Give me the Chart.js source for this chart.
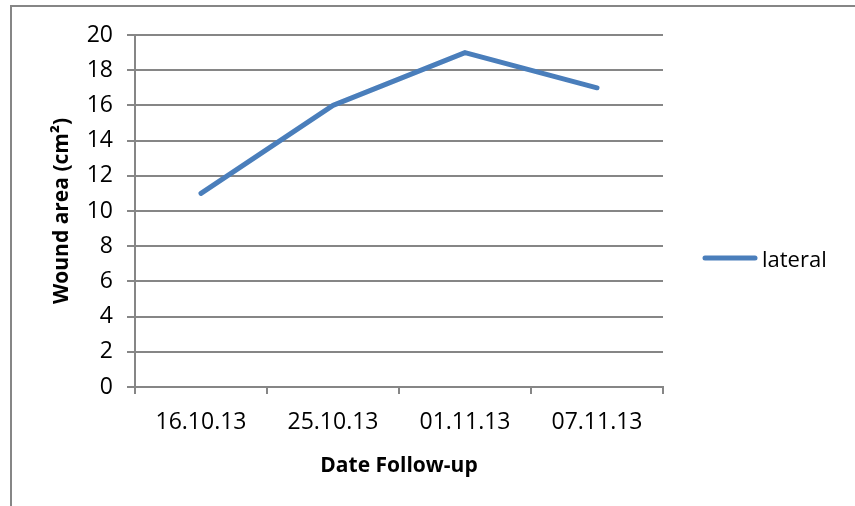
<!DOCTYPE html>
<html lang="en">

<head>
  <meta charset="UTF-8">
  <title>Wound area</title>
  <style>
    html, body {
      margin: 0;
      padding: 0;
      background: #fff;
      overflow: hidden;
    }

    #chart-container {
      width: 855px;
      height: 506px;
      position: relative;
    }
  </style>
</head>

<body>
  <div id="chart-container">
    <canvas id="woundChart"></canvas>
  </div>

  <script src="https://cdn.jsdelivr.net/npm/chart.js@4.4.0/dist/chart.umd.min.js"></script>
  <script>
    const dates = ['16.10.13', '25.10.13', '01.11.13', '07.11.13'];
    const lateral = [11, 16, 19, 17];
    const yTicks = [0, 2, 4, 6, 8, 10, 12, 14, 16, 18, 20];

    const gridColor = '#868686';
    const lineColor = '#4a7ebb';
    const fontFamily = '"Open Sans", "Liberation Sans", sans-serif';

    // outer frame + legend on the right, drawn by hand like the Excel one
    const framePlugin = {
      id: 'frame',
      beforeDraw(chart) {
        const ctx = chart.ctx;
        ctx.save();
        ctx.strokeStyle = gridColor;
        ctx.lineWidth = 2;
        ctx.strokeRect(11, 6, 900, 600);
        ctx.restore();
      },
      afterDraw(chart) {
        const ctx = chart.ctx;
        const ds = chart.data.datasets[0];
        ctx.save();
        ctx.strokeStyle = ds.borderColor;
        ctx.lineWidth = 5;
        ctx.lineCap = 'round';
        ctx.beginPath();
        ctx.moveTo(705, 258);
        ctx.lineTo(755, 258);
        ctx.stroke();
        ctx.fillStyle = '#000';
        ctx.font = '22px ' + fontFamily;
        ctx.textBaseline = 'middle';
        ctx.fillText(ds.label, 762, 261);
        ctx.restore();
      }
    };

    const ctx = document.getElementById('woundChart').getContext('2d');
    new Chart(ctx, {
      type: 'line',
      data: {
        labels: dates,
        datasets: [{
          label: 'lateral',
          data: lateral,
          borderColor: lineColor,
          backgroundColor: lineColor,
          borderWidth: 5,
          borderCapStyle: 'round',
          borderJoinStyle: 'round',
          pointRadius: 0,
          tension: 0
        }]
      },
      options: {
        responsive: true,
        maintainAspectRatio: false,
        animation: false,
        layout: {
          padding: { left: 12, right: 192, top: 35, bottom: 0 }
        },
        plugins: {
          legend: { display: false },
          tooltip: { enabled: false }
        },
        scales: {
          x: {
            offset: true,
            grid: {
              display: true,
              drawOnChartArea: false,
              color: gridColor,
              lineWidth: 2,
              tickLength: 7,
              offset: true
            },
            border: { color: gridColor, width: 2 },
            ticks: {
              color: '#000',
              padding: 15,
              maxRotation: 0,
              font: { family: fontFamily, size: 23 }
            },
            title: {
              display: true,
              text: 'Date Follow-up',
              color: '#000',
              font: { family: fontFamily, size: 21, weight: 'bold' },
              padding: { top: 0, bottom: 27 }
            },
            afterFit(scale) {
              scale.height = 506 - 387;
            }
          },
          y: {
            min: 0,
            max: 20,
            afterBuildTicks(scale) {
              scale.ticks = yTicks.map(v => ({ value: v }));
            },
            grid: {
              color: gridColor,
              lineWidth: 2,
              tickLength: 8
            },
            border: { color: gridColor, width: 2 },
            ticks: {
              color: '#000',
              padding: 14,
              font: { family: fontFamily, size: 23 }
            },
            title: {
              display: true,
              text: 'Wound area (cm²)',
              color: '#000',
              font: { family: fontFamily, size: 21, weight: 'bold' },
              padding: { top: 37, bottom: 0 }
            },
            afterFit(scale) {
              scale.width = 135 - 12;
            }
          }
        }
      },
      plugins: [framePlugin]
    });
  </script>
</body>

</html>
